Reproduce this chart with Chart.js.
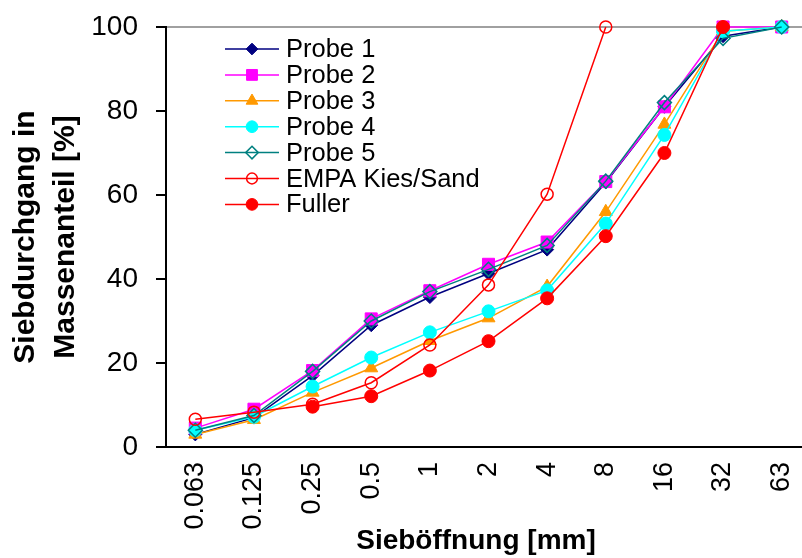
<!DOCTYPE html>
<html><head><meta charset="utf-8">
<script src="https://cdn.jsdelivr.net/npm/chart.js"></script>
<style>html,body{margin:0;padding:0;background:#fff;overflow:hidden}
#wrap{position:relative;width:811px;height:558px}</style></head>
<body><div id="wrap"><canvas id="c"></canvas></div>
<script>
// ---- data ----
const categories = ['0.063','0.125','0.25','0.5','1','2','4','8','16','32','63'];
const yTickValues = [0, 20, 40, 60, 80, 100];
const seriesNames = ['Probe 1','Probe 2','Probe 3','Probe 4','Probe 5','EMPA Kies/Sand','Fuller'];
const probe1 = [3, 7, 17, 29, 35.7, 41.3, 47, 63, 81, 97.8, 100];
const probe2 = [4.5, 9, 18.2, 30.5, 37.2, 43.5, 48.8, 63.2, 81, 100, 100];
const probe3 = [3, 6.5, 13, 18.8, 25.3, 30.7, 38.2, 56, 76.8, 99, 100];
const probe4 = [4, 7.2, 14.4, 21.3, 27.3, 32.3, 37.3, 53.2, 74.3, 99, 100];
const probe5 = [4, 7.5, 18, 30, 37, 42.3, 48, 63.3, 82, 97.3, 100];
const empa   = [6.6, 8.3, 10.2, 15.3, 24.3, 38.6, 60.2, 100, null, null, null];
const fuller = [null, null, 9.6, 12.1, 18.2, 25.2, 35.4, 50.2, 70, 100, null];
const xTitle = 'Sieböffnung [mm]';
const yTitleLines = ['Siebdurchgang in', 'Massenanteil [%]'];

// ---- styles ----
const FONT = 'Arial, "Liberation Sans", sans-serif';
const seriesValues = [probe1, probe2, probe3, probe4, probe5, empa, fuller];
const colors = ['#000080', '#FF00FF', '#FF9900', '#00FFFF', '#008080', '#FF0000', '#FF0000'];
const styles = ['rectRot', 'rect', 'triangle', 'circle', 'rectRot', 'circle', 'circle'];
const fills = ['#000080', '#FF00FF', '#FF9900', '#00FFFF', 'rgba(0,0,0,0)', 'rgba(0,0,0,0)', '#FF0000'];
const radii = [6.5, 8.5, 7.5, 6.5, 7, 6, 6.5];
const pbw = [1, 1, 1, 1, 1.5, 1.5, 1];

const datasets = seriesNames.map((name, i) => ({
  label: name,
  data: seriesValues[i],
  borderColor: colors[i],
  backgroundColor: fills[i],
  borderWidth: 1.5,
  pointStyle: styles[i],
  pointRadius: radii[i],
  pointBackgroundColor: fills[i],
  pointBorderColor: colors[i],
  pointBorderWidth: pbw[i],
  tension: 0,
  spanGaps: false,
  clip: false,
  order: seriesNames.length - i
}));

function drawMarker(ctx, style, x, y, r, fill, stroke, bw) {
  ctx.save();
  ctx.beginPath();
  if (style === 'circle') {
    ctx.arc(x, y, r, 0, Math.PI * 2);
  } else if (style === 'rect') {
    const s = r * Math.SQRT1_2;
    ctx.rect(x - s, y - s, 2 * s, 2 * s);
  } else if (style === 'rectRot') {
    ctx.moveTo(x, y - r); ctx.lineTo(x + r, y); ctx.lineTo(x, y + r); ctx.lineTo(x - r, y); ctx.closePath();
  } else if (style === 'triangle') {
    let a = 0;
    ctx.moveTo(x + Math.sin(a) * r, y - Math.cos(a) * r);
    a += 2 * Math.PI / 3;
    ctx.lineTo(x + Math.sin(a) * r, y - Math.cos(a) * r);
    a += 2 * Math.PI / 3;
    ctx.lineTo(x + Math.sin(a) * r, y - Math.cos(a) * r);
    ctx.closePath();
  }
  ctx.fillStyle = fill; ctx.fill();
  ctx.lineWidth = bw; ctx.strokeStyle = stroke; ctx.stroke();
  ctx.restore();
}

const overlay = {
  id: 'overlay',
  afterDraw(chart) {
    const ctx = chart.ctx;
    const area = chart.chartArea;
    ctx.save();
    ctx.fillStyle = '#000';
    ctx.textAlign = 'center';
    ctx.textBaseline = 'middle';
    ctx.font = 'bold 28px ' + FONT;
    ctx.fillText(xTitle, 476, 541);
    ctx.save();
    ctx.translate(0, (area.top + area.bottom) / 2);
    ctx.rotate(-Math.PI / 2);
    ctx.font = 'bold 30px ' + FONT;
    ctx.fillText(yTitleLines[0], 0, 26);
    ctx.fillText(yTitleLines[1], 0, 66);
    ctx.restore();
    // legend
    ctx.font = '25.5px ' + FONT;
    ctx.textAlign = 'left';
    chart.data.datasets.forEach((ds, i) => {
      const y = 49 + i * 25.9;
      ctx.beginPath();
      ctx.moveTo(225, y); ctx.lineTo(279, y);
      ctx.strokeStyle = ds.borderColor; ctx.lineWidth = 1.5; ctx.stroke();
      drawMarker(ctx, ds.pointStyle, 252, y, ds.pointRadius * 0.9, ds.pointBackgroundColor, ds.pointBorderColor, ds.pointBorderWidth);
      ctx.fillStyle = '#000';
      ctx.fillText(ds.label, 286, y + 1);
    });
    ctx.restore();
  }
};

function noPad(s) { s.paddingTop = 0; s.paddingBottom = 0; s.paddingLeft = 0; s.paddingRight = 0; }

new Chart(document.getElementById('c'), {
  type: 'line',
  data: { labels: categories, datasets },
  options: {
    responsive: true,
    maintainAspectRatio: false,
    animation: false,
    layout: { autoPadding: false, padding: { top: 27, left: 0, right: 0, bottom: 0 } },
    plugins: { legend: { display: false }, tooltip: { enabled: false } },
    scales: {
      x: {
        type: 'category',
        offset: true,
        afterFit(s) { s.height = 111; noPad(s); },
        grid: { display: true, color: 'rgba(0,0,0,0)', drawTicks: false },
        border: { display: true, color: '#000', width: 2 },
        ticks: {
          autoSkip: false, minRotation: 90, maxRotation: 90,
          color: '#000', font: { family: FONT, size: 27 }, padding: 15
        }
      },
      y: {
        min: 0, max: 100,
        afterFit(s) { s.width = 166; noPad(s); },
        afterBuildTicks(s) { s.ticks = yTickValues.map(v => ({ value: v })); },
        grid: {
          color: c => (c.tick && c.tick.value === 100) ? '#a0a0a0' : 'rgba(0,0,0,0)',
          lineWidth: 2, tickLength: 10, tickColor: '#000', tickWidth: 2, drawTicks: true
        },
        border: { display: true, color: '#000', width: 2 },
        ticks: { color: '#000', font: { family: FONT, size: 28 }, padding: 18 }
      }
    }
  },
  plugins: [overlay]
});
</script>
</body></html>
